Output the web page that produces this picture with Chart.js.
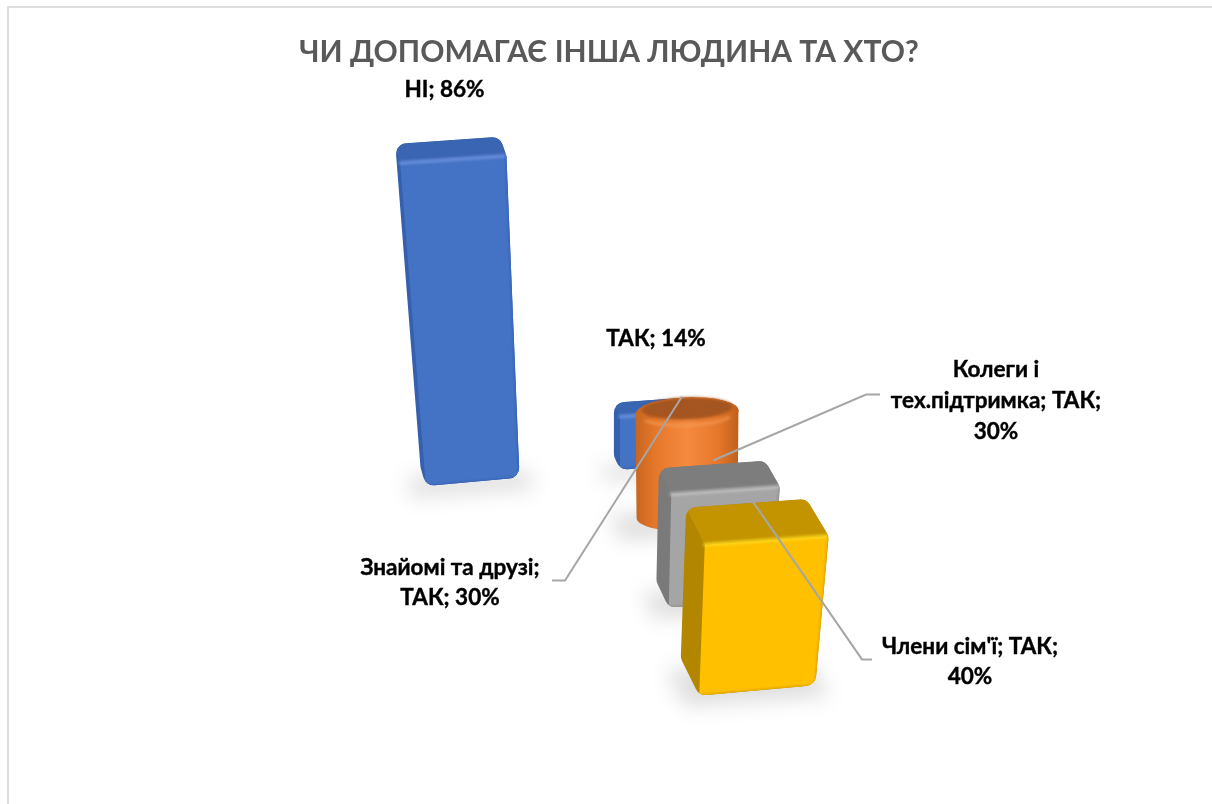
<!DOCTYPE html>
<html>
<head>
<meta charset="utf-8">
<style>html,body{margin:0;padding:0;background:#fff}canvas{display:block}</style>
<script src="https://cdn.jsdelivr.net/npm/chart.js@4"></script>
</head>
<body>
<canvas id="c" width="1212" height="804"></canvas>
<script>
// ---- data ----
const categories = ['НІ', 'ТАК', 'Знайомі та друзі; ТАК', 'Колеги і тех.підтримка; ТАК', "Члени сім'ї; ТАК"];
const values = [86, 14, 30, 30, 40];
const labelLines = [
  ['НІ; 86%'],
  ['ТАК; 14%'],
  ['Знайомі та друзі;', 'ТАК; 30%'],
  ['Колеги і', 'тех.підтримка; ТАК;', '30%'],
  ["Члени сім'ї; ТАК;", '40%']
];

// ---- fake 3D layout (axis units: x = 10px, y = 3.75px) ----
const columnX = [46.3, 66.2, 68.7, 72.3, 76.2];
const floorY = [85.9, 90.1, 74.4, 53.6, 30.3];
const barWidths = [100, 84, 103, 106, 120];
const depths = [19, 14, 0, 26, 37];
const shapes = ['box', 'box', 'cylinder', 'box', 'box'];

const palette = [
  { main:'#4472c4', edge:'#3560b0', top:'#3a65b2', side:'#3560ad', light:'#6f96e2' },
  { main:'#4472c4', edge:'#3560b0', top:'#3a65b2', side:'#3560ad', light:'#6f96e2' },
  { main:'#ed7d31', edge:'#c0621f', top:'#a5551f', side:'#b85f20', light:'#f59a58' },
  { main:'#a5a5a5', edge:'#8c8c8c', top:'#7d7d7d', side:'#7a7a7a', light:'#c4c4c4' },
  { main:'#ffc000', edge:'#d9a300', top:'#c49400', side:'#b38600', light:'#ffdc20' }
];
// label position relative to bar, leader: anchor, elbow and end relative to bar
const labelOffset = [[-18.5,-70],[-6,-75],[-237,155],[273,-120.5],[208,106]];
const labelSide = [null, null,
  { from:[-5,-16], elbow:[-122,168], end:[-135,168] },
  { from:[-10,-30], elbow:[143,-96], end:[157,-96] },
  { from:[-10,-40], elbow:[100,119], end:[110,119] }];

const VX = 618, VY = 2900;
const FONT = 'Lato, "Open Sans", sans-serif';

function geom(el, depth) {
  const mid = (el.y + el.base) / 2;
  const corner = (u, top) => {
    const y0 = top ? el.y : el.base;
    const k = (VY - y0) / (VY - mid);
    const xc = VX + (el.x - VX) * k, hw = el.width / 2 * k;
    return { x: xc + u * 2 * hw, y: y0 + (top ? -0.07 : -0.09) * u * 2 * hw };
  };
  const back = p => ({ x: p.x - (0.26 + (p.x - 400) * 0.0008) * depth, y: p.y - depth });
  const fTL = corner(-.5, true), fTR = corner(.5, true), fBL = corner(-.5, false), fBR = corner(.5, false);
  return { fTL, fTR, fBL, fBR, bTL: back(fTL), bTR: back(fTR), bBL: back(fBL), bBR: back(fBR) };
}

function roundPoly(ctx, pts, r) {
  const n = pts.length;
  const m = { x:(pts[n-1].x + pts[0].x)/2, y:(pts[n-1].y + pts[0].y)/2 };
  ctx.beginPath();
  ctx.moveTo(m.x, m.y);
  for (let i = 0; i < n; i++) {
    const p = pts[i], q = pts[(i+1)%n];
    ctx.arcTo(p.x, p.y, q.x, q.y, r);
  }
  ctx.closePath();
}
function poly(ctx, pts) {
  ctx.beginPath();
  pts.forEach((p,i) => i ? ctx.lineTo(p.x,p.y) : ctx.moveTo(p.x,p.y));
  ctx.closePath();
}
function softLine(ctx, a, b, color, w, blur) {
  ctx.save();
  ctx.filter = `blur(${blur}px)`;
  ctx.strokeStyle = color; ctx.lineWidth = w; ctx.lineCap = 'round';
  ctx.beginPath(); ctx.moveTo(a.x,a.y); ctx.lineTo(b.x,b.y); ctx.stroke();
  ctx.restore();
}

function drawBox(ctx, el, i) {
  const g = geom(el, depths[i]), c = palette[i];
  ctx.save();
  roundPoly(ctx, [g.bTL, g.bTR, g.fTR, g.fBR, g.fBL, g.bBL], 11);
  ctx.clip();
  ctx.fillStyle = c.side;
  ctx.fillRect(el.x - 200, el.y - 100, 400, el.base - el.y + 200);
  // front
  ctx.fillStyle = c.main;
  poly(ctx, [g.fTL, g.fTR, g.fBR, g.fBL]);
  ctx.fill();
  // top
  ctx.fillStyle = c.top;
  poly(ctx, [g.bTL, g.bTR, g.fTR, g.fTL]);
  ctx.fill();
  softLine(ctx, g.fTL, g.fTR, c.light, 3, 1.5);
  softLine(ctx, g.fTR, g.fBR, c.edge, 2, 1);
  softLine(ctx, g.fBL, g.fBR, c.edge, 2, 1);
  ctx.restore();
}

function drawCylinder(ctx, el, i) {
  const c = palette[i], rx = el.width / 2, ry = 15, rot = -0.04;
  const grad = ctx.createLinearGradient(el.x - rx, 0, el.x + rx, 0);
  grad.addColorStop(0, '#c8651f'); grad.addColorStop(.2, '#e6782b');
  grad.addColorStop(.5, '#f58a3e'); grad.addColorStop(.8, '#e6782b'); grad.addColorStop(1, '#c0601d');
  ctx.save();
  ctx.fillStyle = grad;
  ctx.beginPath();
  ctx.ellipse(el.x, el.y, rx, ry, rot, Math.PI, 0);
  ctx.lineTo(el.x + rx - 1, el.base - 9);
  ctx.ellipse(el.x, el.base - 9, rx - 1, ry, rot, 0, Math.PI);
  ctx.closePath();
  ctx.fill();
  // rim and lid
  ctx.beginPath();
  ctx.ellipse(el.x, el.y, rx, ry, rot, 0, Math.PI * 2);
  ctx.fillStyle = grad;
  ctx.fill();
  ctx.filter = 'blur(1.5px)';
  ctx.beginPath();
  ctx.ellipse(el.x, el.y, rx - 3, ry - 2, rot, 0.5, Math.PI - 0.5);
  ctx.strokeStyle = c.light; ctx.lineWidth = 2;
  ctx.stroke();
  ctx.beginPath();
  ctx.ellipse(el.x, el.y - 4, rx - 6, ry - 4, rot, 0, Math.PI * 2);
  ctx.fillStyle = c.top;
  ctx.fill();
  ctx.restore();
}

const bars3d = {
  id: 'bars3d',
  beforeDatasetsDraw(chart) {
    const ctx = chart.ctx;
    ctx.save();
    ctx.filter = 'blur(10px)';
    ctx.fillStyle = 'rgba(0,0,0,.13)';
    chart.data.datasets.forEach((d, i) => {
      const el = chart.getDatasetMeta(i).data[0];
      const g = geom(el, depths[i] || 25);
      const pts = [g.bBL, g.bBR, g.fBR, g.fBL].map(p => ({ x:p.x, y:p.y + 11 }));
      pts[0].x -= 14; pts[3].x -= 14; pts[1].x += 14; pts[2].x += 14;
      poly(ctx, pts);
      ctx.fill();
    });
    ctx.restore();
  },
  beforeDatasetDraw(chart, args) {
    const i = args.index, el = chart.getDatasetMeta(i).data[0];
    (shapes[i] === 'cylinder' ? drawCylinder : drawBox)(chart.ctx, el, i);
    return false;
  },
  afterDatasetsDraw(chart) {
    const ctx = chart.ctx;
    ctx.save();
    // leader lines
    ctx.strokeStyle = '#a6a6a6'; ctx.lineWidth = 2;
    labelSide.forEach((l, i) => {
      if (!l) return;
      const el = chart.getDatasetMeta(i).data[0];
      ctx.beginPath();
      ctx.moveTo(el.x + l.from[0], el.y + l.from[1]);
      ctx.lineTo(el.x + l.elbow[0], el.y + l.elbow[1]);
      ctx.lineTo(el.x + l.end[0], el.y + l.end[1]);
      ctx.stroke();
    });
    // data labels
    ctx.fillStyle = '#000';
    ctx.strokeStyle = '#000'; ctx.lineWidth = .4;
    ctx.font = `bold 22.5px ${FONT}`;
    ctx.textAlign = 'center'; ctx.textBaseline = 'middle';
    labelLines.forEach((lines, i) => {
      const el = chart.getDatasetMeta(i).data[0];
      lines.forEach((t, k) => {
        const x = el.x + labelOffset[i][0], y = el.y + labelOffset[i][1] + k * 30.7;
        ctx.fillText(t, x, y);
        ctx.strokeText(t, x, y);
      });
    });
    // chart frame
    ctx.strokeStyle = '#dedede'; ctx.lineWidth = 2;
    ctx.beginPath();
    ctx.moveTo(8, 804); ctx.lineTo(8, 7); ctx.lineTo(1212, 7);
    ctx.stroke();
    ctx.restore();
  }
};

new Chart(document.getElementById('c').getContext('2d'), {
  type: 'bar',
  data: {
    datasets: categories.map((name, i) => ({
      label: name,
      data: [{ x: columnX[i], y: [floorY[i], floorY[i] + values[i]] }],
      backgroundColor: palette[i].main,
      barThickness: barWidths[i],
      grouped: false,
      order: categories.length - i
    }))
  },
  options: {
    responsive: false, animation: false,
    layout: { padding: { left: 6 } },
    plugins: {
      legend: { display: false },
      tooltip: { enabled: false },
      title: { display: true, fullSize: false, text: 'ЧИ ДОПОМАГАЄ ІНША ЛЮДИНА ТА ХТО?', color: '#595959',
        font: { family: FONT, size: 30, weight: 'bold', lineHeight: 1.2 }, padding: { top: 34, bottom: 1 } }
    },
    scales: {
      x: { type: 'linear', min: 0.6, max: 121.2, offset: false, display: false, grid: { display: false } },
      y: { min: 0, max: 195.47, display: false, grid: { display: false } }
    }
  },
  plugins: [bars3d]
});
</script>
</body>
</html>
